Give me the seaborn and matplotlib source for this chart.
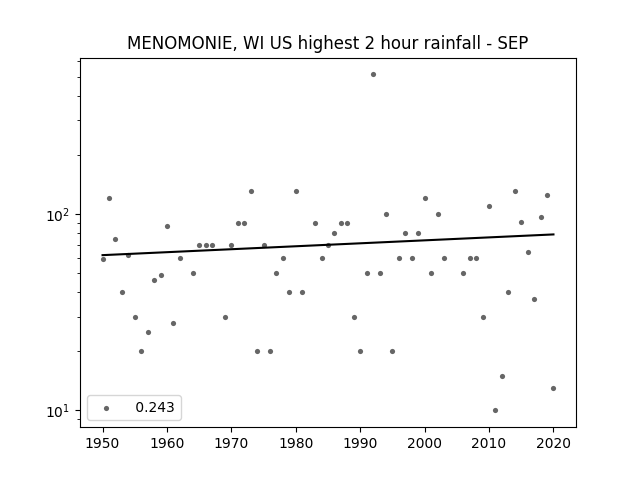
import matplotlib
matplotlib.use("Agg")
import matplotlib.pyplot as plt
import pandas as pd
import seaborn as sns

years = [1950,1951,1952,1953,1954,1955,1956,1957,1958,1959,1960,1961,1962,1964,1965,1966,1967,1969,1970,
         1971,1972,1973,1974,1975,1976,1977,1978,1979,1980,1981,1983,1984,1985,1986,1987,1988,1989,1990,
         1991,1992,1993,1994,1995,1996,1997,1998,1999,2000,2001,2002,2003,2006,2007,2008,2009,2010,
         2011,2012,2013,2014,2015,2016,2017,2018,2019,2020]
rain = [59,121,75,40,62,30,20,25,46,49,87,28,60,50,70,70,70,30,70,
        90,90,131,20,70,20,50,60,40,131,40,90,60,70,80,90,90,30,20,
        50,515,50,100,20,60,80,60,80,121,50,100,60,50,60,60,30,110,
        10,15,40,131,91,64,37,97,125,13]
trend_years = [1950, 2020]
trend_values = [61.8, 78.8]
slope_label = " 0.243"
title = "MENOMONIE, WI US highest 2 hour rainfall - SEP"

df = pd.DataFrame({"year": years, "rain": rain})
tf = pd.DataFrame({"year": trend_years, "rain": trend_values})

fig, ax = plt.subplots(figsize=(6.4, 4.8), dpi=100)
sns.scatterplot(data=df, x="year", y="rain", ax=ax, color="k", alpha=0.6, s=14,
                linewidth=0, label=slope_label, zorder=2)
sns.lineplot(data=tf, x="year", y="rain", ax=ax, color="k", linewidth=1.5, zorder=3, legend=False)
ax.set_yscale("log")
ax.set_xlabel("")
ax.set_ylabel("")
ax.set_title(title)
ax.legend(loc="lower left")
fig.savefig("out.png", dpi=100)
